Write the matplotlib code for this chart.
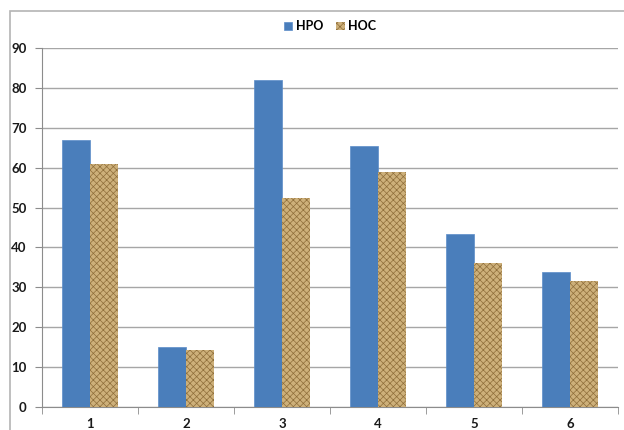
import numpy as np
import matplotlib.pyplot as plt
from matplotlib.patches import Rectangle

plt.rcParams['font.family'] = ['Lato', 'DejaVu Sans']
plt.rcParams['hatch.linewidth'] = 0.5

categories = ['1', '2', '3', '4', '5', '6']
hpo = [67, 15, 82, 65.5, 43.3, 33.8]
hoc = [61, 14.4, 52.5, 59, 36, 31.7]
y_ticks = [0, 10, 20, 30, 40, 50, 60, 70, 80, 90]

fig = plt.figure(figsize=(6.24, 4.30), dpi=100)
ax = fig.add_axes([42 / 624, 23 / 430, 576 / 624, 359 / 430])

# outer chart frame
fig.patches.append(Rectangle((10 / 624, -0.1), 1.2, 1 - 11 / 430 + 0.1,
                             transform=fig.transFigure, fill=False,
                             edgecolor='#b4b4b4', linewidth=1.2))

x = np.arange(len(categories))
w = 0.29
ax.bar(x - w / 2, hpo, w, color='#4a7ebb', edgecolor='#5b8cc8',
       linewidth=0.5, label='HPO', zorder=3)
ax.bar(x + w / 2, hoc, w, color='#cdb07a', edgecolor='#8f6e3a',
       hatch='xxxxx', linewidth=0, label='HOC', zorder=3)

ax.set_xlim(-0.5, len(categories) - 0.5)
ax.set_ylim(0, 90)
ax.set_yticks(y_ticks)
ax.set_xticks(x)
ax.set_xticklabels(categories)
ax.set_xticks(np.arange(len(categories) + 1) - 0.5, minor=True)
ax.tick_params(axis='x', which='major', length=0, pad=8)
ax.tick_params(axis='x', which='minor', length=5, color='#8c8c8c', direction='out')
ax.tick_params(axis='y', length=5, color='#8c8c8c', direction='out', pad=6)
for lab in ax.get_xticklabels() + ax.get_yticklabels():
    lab.set_fontweight('bold')
    lab.set_fontsize(9.5)
    lab.set_color('#1a1a1a')

ax.grid(axis='y', color='#a6a6a6', linewidth=1, zorder=0)
for s in ['top', 'right']:
    ax.spines[s].set_visible(False)
ax.spines['left'].set_color('#8c8c8c')
ax.spines['bottom'].set_color('#8c8c8c')

leg = ax.legend(loc='center', bbox_to_anchor=(0.5, 1.06), ncol=2, frameon=False,
                handlelength=0.7, handleheight=0.7, handletextpad=0.3,
                columnspacing=1.0, prop={'weight': 'bold', 'size': 9})

fig.savefig('out.png', dpi=100)
